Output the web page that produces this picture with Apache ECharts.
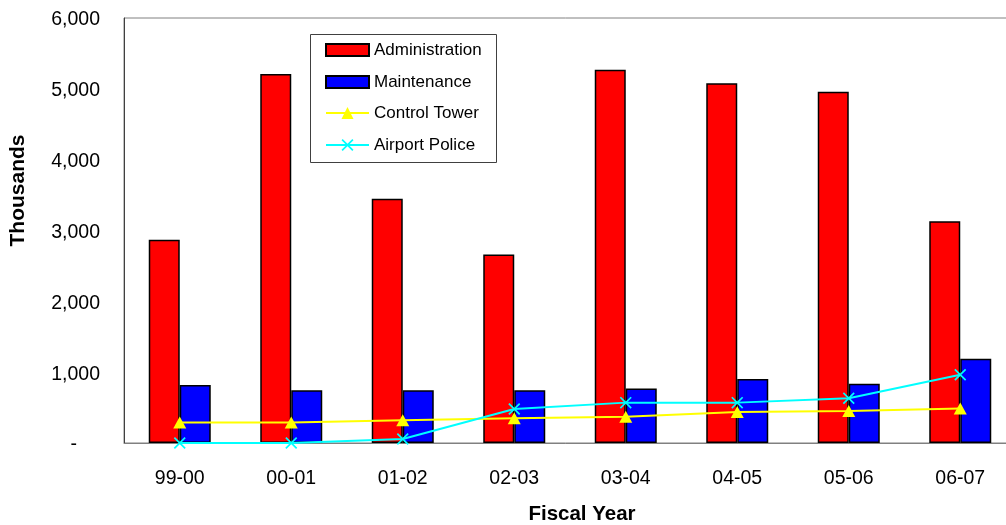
<!DOCTYPE html>
<html>
<head>
<meta charset="utf-8">
<script src="https://cdn.jsdelivr.net/npm/echarts@6/dist/echarts.min.js"></script>
<style>
html,body{margin:0;padding:0;background:#fff;}
#chart{width:1006px;height:525px;}
</style>
</head>
<body>
<div id="chart"></div>
<script>
const categories = ['99-00','00-01','01-02','02-03','03-04','04-05','05-06','06-07'];
const administration = [2870, 5210, 3450, 2660, 5270, 5080, 4960, 3130];
const maintenance = [820, 745, 745, 745, 770, 905, 835, 1190];
const controlTower = [290, 290, 320, 350, 372, 438, 452, 487];
const airportPolice = [0, 0, 56, 480, 570, 570, 632, 963];
const yTicks = [0, 1000, 2000, 3000, 4000, 5000, 6000];

const FONT = "'Liberation Sans', Arial, sans-serif";
const crossPath = 'path://M0,1L1,0L5,4L9,0L10,1L6,5L10,9L9,10L5,6L1,10L0,9L4,5Z';

const legendText = {fontFamily: FONT, fontSize: 17, color: '#000', lineHeight: 17};

const chart = echarts.init(document.getElementById('chart'), null, {renderer:'canvas'});
chart.setOption({
  animation: false,
  backgroundColor: '#fff',
  textStyle: {fontFamily: FONT},
  grid: {left: 124, top: 18, bottom: 82, right: -10, show: true, borderColor: '#808080', borderWidth: 1,
         containLabel: false, outerBoundsMode: 'none'},
  graphic: [{
    type: 'rect', left: 310, top: 34, z: 1,
    shape: {width: 186, height: 128},
    style: {fill: '#fff', stroke: '#404040', lineWidth: 1}
  }],
  legend: [
    {
      orient: 'vertical', left: 325, top: 41.5, padding: 0, z: 10,
      itemWidth: 43, itemHeight: 12, itemGap: 15, icon: 'rect',
      textStyle: legendText,
      data: ['Administration','Maintenance']
    },
    {
      orient: 'vertical', left: 325, top: 104.5, padding: 0, z: 10,
      itemWidth: 43, itemHeight: 15, itemGap: 15,
      textStyle: legendText,
      data: ['Control Tower','Airport Police']
    }
  ],
  xAxis: {
    type: 'category', data: categories,
    name: 'Fiscal Year', nameLocation: 'middle', nameGap: 61,
    nameTextStyle: {fontFamily: FONT, fontSize: 20.5, fontWeight: 'bold', color: '#000', padding: [0, 0, 0, 24]},
    axisLine: {lineStyle: {color: '#808080', width: 1}},
    axisTick: {show: false},
    axisLabel: {fontFamily: FONT, fontSize: 19.5, color: '#000', margin: 26}
  },
  yAxis: {
    type: 'value', min: 0, max: 6000, interval: 1000,
    name: 'Thousands', nameLocation: 'middle', nameGap: 95, nameRotate: 90,
    nameTextStyle: {fontFamily: FONT, fontSize: 21, fontWeight: 'bold', color: '#000', padding: [0, 0, 0, 80]},
    axisLine: {show: true, lineStyle: {color: '#404040', width: 1}},
    axisTick: {show: false},
    splitLine: {show: false},
    axisLabel: {
      fontFamily: FONT, fontSize: 19.5, color: '#000', margin: 24, padding: [4, 0, 0, 0],
      formatter: function (v) {
        if (yTicks.indexOf(v) < 0) return '';
        return v === 0 ? '{d|-}' : v.toLocaleString('en-US');
      },
      rich: {d: {fontFamily: FONT, fontSize: 19.5, color: '#000', padding: [0, 23, 0, 0]}}
    }
  },
  series: [
    {
      name: 'Administration', type: 'bar', data: administration,
      barWidth: 31, barGap: '0%',
      itemStyle: {color: '#FF0000', borderColor: '#000', borderWidth: 1.5}
    },
    {
      name: 'Maintenance', type: 'bar', data: maintenance,
      barWidth: 31, barGap: '0%',
      itemStyle: {color: '#0000FF', borderColor: '#000', borderWidth: 1.5}
    },
    {
      name: 'Control Tower', type: 'line', data: controlTower,
      symbol: 'triangle', symbolSize: [13, 12], showAllSymbol: true,
      lineStyle: {color: '#FFFF00', width: 2},
      itemStyle: {color: '#FFFF00', borderWidth: 0},
      z: 5
    },
    {
      name: 'Airport Police', type: 'line', data: airportPolice,
      symbol: crossPath, symbolSize: 12, showAllSymbol: true,
      lineStyle: {color: '#00FFFF', width: 2},
      itemStyle: {color: '#00FFFF', borderWidth: 0},
      z: 6
    }
  ]
});
</script>
</body>
</html>
